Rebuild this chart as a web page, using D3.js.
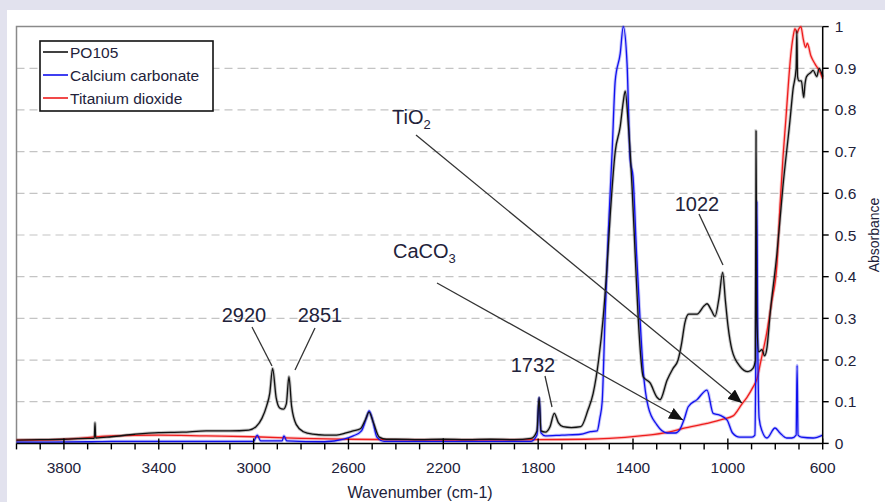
<!DOCTYPE html>
<html>
<head>
<meta charset="utf-8">
<script src="https://cdn.jsdelivr.net/npm/d3@7"></script>
<style>
  body { margin: 0; background: #e2e2ee; }
  svg text { font-family: "Liberation Sans", Arial, sans-serif; fill: #22223a; }
</style>
</head>
<body>
<svg id="chart" width="885" height="502"></svg>
<script>
// wavenumber (cm-1), absorbance
var po105 = [
  [4000,0.008],[3900,0.009],[3800,0.010],[3700,0.012],[3672,0.012],[3669,0.05],[3666,0.013],
  [3600,0.016],[3500,0.022],[3400,0.026],[3300,0.027],[3200,0.030],[3100,0.030],[3020,0.032],
  [2990,0.040],[2965,0.060],[2945,0.090],[2932,0.120],[2920,0.180],[2905,0.110],[2890,0.085],
  [2875,0.082],[2862,0.095],[2851,0.160],[2840,0.090],[2820,0.045],[2790,0.028],[2750,0.022],
  [2700,0.020],[2650,0.020],[2610,0.025],[2580,0.030],[2550,0.035],[2530,0.055],[2513,0.075],
  [2495,0.050],[2470,0.015],[2440,0.010],[2400,0.010],[2300,0.009],[2200,0.010],[2100,0.009],
  [2000,0.010],[1900,0.009],[1830,0.012],[1805,0.030],[1796,0.110],[1788,0.030],[1770,0.027],
  [1750,0.040],[1732,0.072],[1715,0.050],[1695,0.040],[1660,0.038],[1620,0.040],[1590,0.080],
  [1568,0.120],[1545,0.200],[1526,0.300],[1510,0.420],[1497,0.540],[1475,0.700],[1454,0.760],
  [1441,0.820],[1433,0.845],[1421,0.775],[1404,0.615],[1391,0.455],[1378,0.300],[1357,0.160],
  [1328,0.145],[1298,0.110],[1286,0.105],[1256,0.152],[1231,0.180],[1210,0.200],[1195,0.240],
  [1181,0.290],[1165,0.310],[1130,0.310],[1100,0.330],[1088,0.335],[1070,0.320],[1054,0.305],
  [1037,0.350],[1022,0.410],[1010,0.340],[999,0.280],[983,0.225],[949,0.185],[915,0.172],
  [894,0.180],[884,0.200],[881,0.750],[878,0.300],[870,0.220],[856,0.225],[845,0.210],
  [835,0.230],[822,0.310],[793,0.455],[768,0.615],[738,0.775],[725,0.850],[712,0.900],
  [709,0.990],[706,0.880],[700,0.870],[690,0.870],[680,0.830],[675,0.860],[668,0.880],
  [650,0.890],[640,0.895],[625,0.880],[615,0.900],[600,0.880]
];
var calciumCarbonate = [
  [4000,0.003],[3700,0.004],[3600,0.005],[3000,0.005],[2985,0.020],[2970,0.006],[2880,0.006],
  [2872,0.018],[2860,0.006],[2700,0.004],[2620,0.010],[2580,0.018],[2545,0.030],[2525,0.060],
  [2513,0.078],[2500,0.060],[2480,0.015],[2450,0.005],[1830,0.005],[1805,0.020],[1796,0.110],
  [1788,0.025],[1770,0.018],[1700,0.020],[1620,0.022],[1580,0.028],[1551,0.030],[1540,0.060],
  [1530,0.100],[1518,0.300],[1505,0.495],[1488,0.700],[1475,0.870],[1454,0.935],[1441,1.000],
  [1425,0.910],[1412,0.680],[1400,0.640],[1385,0.455],[1370,0.295],[1357,0.175],[1336,0.088],
  [1300,0.045],[1256,0.025],[1222,0.025],[1201,0.035],[1183,0.060],[1167,0.088],[1130,0.105],
  [1088,0.128],[1062,0.072],[1035,0.068],[1003,0.056],[980,0.025],[950,0.015],[898,0.015],
  [886,0.020],[882,0.200],[878,0.580],[874,0.250],[868,0.060],[856,0.030],[835,0.013],
  [801,0.037],[780,0.025],[752,0.013],[730,0.013],[712,0.020],[708,0.187],[704,0.020],
  [690,0.015],[640,0.013],[600,0.020]
];
var titaniumDioxide = [
  [4000,0.008],[3800,0.010],[3600,0.018],[3400,0.020],[3200,0.018],[3000,0.016],[2800,0.012],
  [2600,0.010],[2200,0.008],[1800,0.009],[1600,0.010],[1500,0.012],[1369,0.018],[1250,0.027],
  [1189,0.036],[1088,0.048],[1020,0.058],[978,0.066],[940,0.095],[920,0.110],[894,0.135],
  [877,0.155],[860,0.200],[836,0.265],[815,0.340],[793,0.430],[780,0.570],[767,0.690],
  [755,0.780],[745,0.860],[735,0.930],[725,0.975],[717,0.995],[708,0.985],[700,0.995],
  [692,1.000],[682,0.970],[672,0.950],[665,0.960],[650,0.930],[632,0.910],[610,0.890],[600,0.875]
];
var seriesNames = ["PO105", "Calcium carbonate", "Titanium dioxide"];
var seriesColors = ["#111111", "#1010ee", "#ee1c1c"];
var xTicks = d3.range(600, 4001, 100);
var xLabels = [3800, 3400, 3000, 2600, 2200, 1800, 1400, 1000, 600];
var yTicks = [0, 0.1, 0.2, 0.3, 0.4, 0.5, 0.6, 0.7, 0.8, 0.9, 1];
// label, text x, baseline y, leader start, leader end, arrow?
var notes = [
  {t: "2920", x: 244, y: 322, a: [252, 327], b: [272, 366], arrow: false},
  {t: "2851", x: 320, y: 322, a: [315, 328], b: [295, 370], arrow: false},
  {t: "1732", x: 533, y: 372, a: [545, 376], b: [552, 407], arrow: false},
  {t: "1022", x: 697, y: 211, a: [699, 214], b: [723, 265], arrow: false},
  {t: "TiO", sub: "2", x: 392, y: 124, a: [416, 135], b: [742, 403], arrow: true},
  {t: "CaCO", sub: "3", x: 393, y: 258, a: [437, 283], b: [683, 420], arrow: true}
];

var svg = d3.select("#chart");
svg.append("rect").attr("x", 7).attr("y", 10).attr("width", 878).attr("height", 492).attr("fill", "#ffffff");

var x = d3.scaleLinear().domain([4000, 600]).range([16.5, 822.7]);
var y = d3.scaleLinear().domain([0, 1]).range([443.4, 26.6]);

// gridlines
svg.append("g").selectAll("line").data(yTicks.filter(function (d) { return d > 0 && d < 1; }))
  .enter().append("line")
  .attr("x1", x(4000)).attr("x2", x(600))
  .attr("y1", function (d) { return y(d); }).attr("y2", function (d) { return y(d); })
  .attr("stroke", "#c4c4c4").attr("stroke-width", 1.2).attr("stroke-dasharray", "8,5");

// frame
svg.append("path")
  .attr("d", "M" + x(4000) + "," + y(0) + "V" + y(1) + "H" + x(600))
  .attr("fill", "none").attr("stroke", "#8a8a8a").attr("stroke-width", 1.5);

// spectra
var line = d3.line()
  .x(function (d) { return x(d[0]); })
  .y(function (d) { return y(d[1]); })
  .curve(d3.curveMonotoneX);
var asc = function (arr) { return arr.slice().sort(function (a, b) { return a[0] - b[0]; }); };
var order = [
  {data: titaniumDioxide, c: seriesColors[2]},
  {data: calciumCarbonate, c: seriesColors[1]},
  {data: po105, c: seriesColors[0]}
];
var gLines = svg.append("g");
order.forEach(function (s) {
  gLines.append("path").attr("d", line(asc(s.data)))
    .attr("fill", "none").attr("stroke", s.c).attr("stroke-opacity", 0.25).attr("stroke-width", 3.2);
});
order.forEach(function (s) {
  gLines.append("path").attr("d", line(asc(s.data)))
    .attr("fill", "none").attr("stroke", s.c).attr("stroke-width", 1.3).attr("stroke-linejoin", "round");
});

// x axis
var xAxis = svg.append("g").attr("transform", "translate(0," + y(0) + ")");
xAxis.append("line").attr("x1", x(4000)).attr("x2", x(600)).attr("stroke", "#000").attr("stroke-width", 1.5);
xAxis.selectAll("line.tk").data(xTicks).enter().append("line").attr("class", "tk")
  .attr("x1", function (d) { return x(d); }).attr("x2", function (d) { return x(d); })
  .attr("y1", function (d) { return xLabels.indexOf(d) >= 0 ? -5 : 0; }).attr("y2", 6)
  .attr("stroke", "#000").attr("stroke-width", 1.4);
xAxis.selectAll("text").data(xLabels).enter().append("text")
  .attr("x", function (d) { return x(d); }).attr("y", 30)
  .attr("text-anchor", "middle").style("font-size", "15.5px").text(function (d) { return d; });
svg.append("text").attr("x", 420).attr("y", 498).attr("text-anchor", "middle")
  .style("font-size", "16px").text("Wavenumber (cm-1)");

// y axis (right)
var yAxis = svg.append("g").attr("transform", "translate(" + x(600) + ",0)");
yAxis.append("line").attr("y1", y(0)).attr("y2", y(1)).attr("stroke", "#000").attr("stroke-width", 1.5);
yAxis.selectAll("line.tk").data(yTicks).enter().append("line").attr("class", "tk")
  .attr("x1", 0).attr("x2", 6)
  .attr("y1", function (d) { return y(d); }).attr("y2", function (d) { return y(d); })
  .attr("stroke", "#000").attr("stroke-width", 1.4);
yAxis.selectAll("text").data(yTicks).enter().append("text")
  .attr("x", 12).attr("y", function (d) { return y(d) + 5.5; })
  .style("font-size", "15.5px").text(d3.format(".1~f"));
svg.append("text").attr("transform", "translate(879,235) rotate(-90)")
  .attr("text-anchor", "middle").style("font-size", "14px").text("Absorbance");

// annotations
var defs = svg.append("defs");
defs.append("marker").attr("id", "arr").attr("viewBox", "0 0 14 12")
  .attr("refX", 14).attr("refY", 6).attr("markerWidth", 14).attr("markerHeight", 12)
  .attr("markerUnits", "userSpaceOnUse").attr("orient", "auto")
  .append("path").attr("d", "M0,0L14,6L0,12Z").attr("fill", "#111");
var gNotes = svg.append("g");
notes.forEach(function (n) {
  gNotes.append("line")
    .attr("x1", n.a[0]).attr("y1", n.a[1]).attr("x2", n.b[0]).attr("y2", n.b[1])
    .attr("stroke", "#333").attr("stroke-width", 1.3)
    .attr("marker-end", n.arrow ? "url(#arr)" : null);
  var t = gNotes.append("text").attr("x", n.x).attr("y", n.y)
    .attr("text-anchor", n.sub ? "start" : "middle").style("font-size", "20px");
  t.append("tspan").text(n.t);
  if (n.sub) t.append("tspan").attr("dy", 5).style("font-size", "13px").text(n.sub);
});

// legend
var lg = svg.append("g");
lg.append("rect").attr("x", 40).attr("y", 41).attr("width", 173).attr("height", 70)
  .attr("fill", "#fff").attr("stroke", "#111").attr("stroke-width", 1.6);
var ly = [52, 75, 98];
seriesNames.forEach(function (name, i) {
  lg.append("line").attr("x1", 43).attr("x2", 68).attr("y1", ly[i]).attr("y2", ly[i])
    .attr("stroke", seriesColors[i]).attr("stroke-width", 1.6);
  lg.append("text").attr("x", 70).attr("y", ly[i] + 5.5).style("font-size", "15.5px").text(name);
});
</script>
</body>
</html>
